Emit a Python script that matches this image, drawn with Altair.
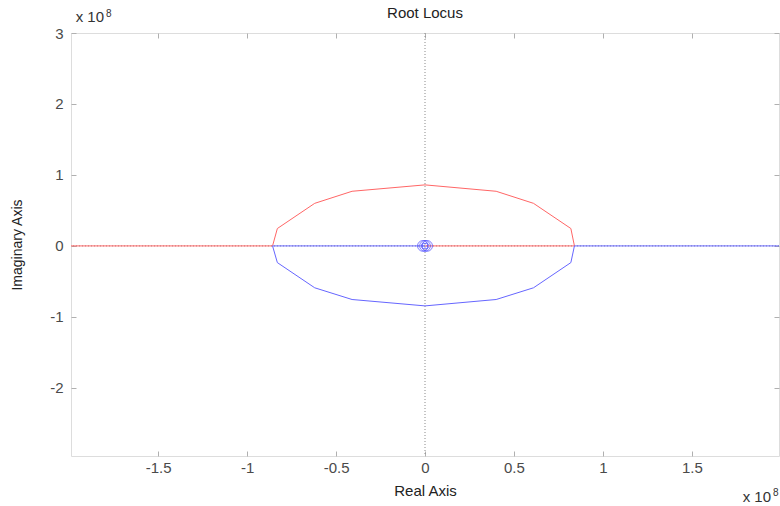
import altair as alt
import pandas as pd

# Root locus branches (units of 1e8)
red_x = [0.0, 0.84, 0.82, 0.61, 0.40, 0.0, -0.41, -0.62, -0.83, -0.857, -2.1]
red_y = [0.0, 0.0, 0.245, 0.60, 0.77, 0.86, 0.77, 0.60, 0.245, 0.0, 0.0]
blue_x = [0.0, -0.857, -0.83, -0.62, -0.41, 0.0, 0.40, 0.61, 0.82, 0.84, 2.1]
blue_y = [0.0, 0.0, -0.235, -0.59, -0.755, -0.845, -0.755, -0.59, -0.235, 0.0, 0.0]

# poles (x) and zeros (o) near origin
pole_x = [0.0]
pole_y = [0.0]
zero_x = [-0.012, 0.0, 0.012]
zero_y = [0.0, 0.0, 0.0]

xticks = [-1.5, -1, -0.5, 0, 0.5, 1, 1.5]
yticks = [-2, -1, 0, 1, 2, 3]
x_domain = [-1.99, 1.99]
y_domain = [-2.96, 3.0]

rows = []
for i, (x, y) in enumerate(zip(red_x, red_y)):
    rows.append({"x": x, "y": y, "branch": "r", "order": i})
for i, (x, y) in enumerate(zip(blue_x, blue_y)):
    rows.append({"x": x, "y": y, "branch": "b", "order": i})
df = pd.DataFrame(rows)

poles = pd.DataFrame({"x": pole_x, "y": pole_y})
zeros = pd.DataFrame({"x": zero_x, "y": zero_y})
origin = pd.DataFrame({"z": [0.0]})
one = pd.DataFrame({"a": [0]})

FONT = "Liberation Sans"
LAB = "#4a4a4a"
TICK = "#b0b0b0"

xs = alt.Scale(domain=x_domain, nice=False, zero=False)
ys = alt.Scale(domain=y_domain, nice=False, zero=False)

x_main = alt.Axis(values=xticks, ticks=False, domain=False, grid=False,
                  title="Real Axis", labelFontSize=15, labelFont=FONT,
                  labelColor=LAB, labelPadding=4, titleFont=FONT,
                  titleFontSize=15, titleFontWeight="normal", titleColor="#222222",
                  titlePadding=8, labelExpr="toString(datum.value)")
y_main = alt.Axis(values=yticks, ticks=False, domain=False, grid=False,
                  title="Imaginary Axis", labelFontSize=15, labelFont=FONT,
                  labelColor=LAB, labelPadding=8, titleFont=FONT,
                  titleFontSize=14, titleFontWeight="normal", titleColor="#222222",
                  titlePadding=25, labelExpr="toString(datum.value)")


def tick_axis(vals, orient):
    return alt.Axis(values=vals, orient=orient, labels=False, domain=False,
                    grid=False, title="", ticks=True, tickSize=5, offset=-5,
                    tickColor=TICK, tickWidth=1)


lines = alt.Chart(df).mark_line(strokeWidth=1, clip=True).encode(
    x=alt.X("x:Q", scale=xs, axis=x_main),
    y=alt.Y("y:Q", scale=ys, axis=y_main),
    color=alt.Color("branch:N", scale=alt.Scale(domain=["r", "b"], range=["#ff6666", "#6666ff"]), legend=None),
    detail="branch:N",
    order="order:Q",
)

ticks_bl = alt.Chart(df).mark_point(opacity=0).encode(
    x=alt.X("x:Q", scale=xs, axis=tick_axis(xticks, "bottom")),
    y=alt.Y("y:Q", scale=ys, axis=tick_axis(yticks, "left")),
)
ticks_tr = alt.Chart(df).mark_point(opacity=0).encode(
    x=alt.X("x:Q", scale=xs, axis=tick_axis(xticks, "top")),
    y=alt.Y("y:Q", scale=ys, axis=tick_axis(yticks, "right")),
)

vrule = alt.Chart(origin).mark_rule(strokeDash=[1, 2], color="#8a8a8a", strokeWidth=1).encode(
    x=alt.X("z:Q", scale=xs, axis=None))
hrule = alt.Chart(origin).mark_rule(strokeDash=[1, 2], color="#8a8a8a", strokeWidth=1).encode(
    y=alt.Y("z:Q", scale=ys, axis=None))

zero_pts = alt.Chart(zeros).mark_point(shape="circle", size=115, filled=False, color="#4a4aff", strokeWidth=1).encode(
    x=alt.X("x:Q", scale=xs, axis=None), y=alt.Y("y:Q", scale=ys, axis=None))
pole_pts = alt.Chart(poles).mark_point(shape="cross", size=40, filled=False, angle=45, color="#4a4aff", strokeWidth=1).encode(
    x=alt.X("x:Q", scale=xs, axis=None), y=alt.Y("y:Q", scale=ys, axis=None))


def label(text, x, y, size, align="left", color="#333333"):
    return alt.Chart(one).mark_text(text=text, align=align, baseline="alphabetic",
                                    font=FONT, fontSize=size, color=color).encode(
        x=alt.value(x), y=alt.value(y))


title = label("Root Locus", 354, -15, 15, align="center", color="#222222")
exp_tl = label("x 10", 33, -11, 15, align="right") + label("8", 35, -16, 10)
exp_br = label("x 10", 700, 469, 15, align="right") + label("8", 702, 463, 10)

chart = alt.layer(
    vrule, hrule, lines, zero_pts, pole_pts, ticks_bl, ticks_tr, title, exp_tl, exp_br
).resolve_axis(x="independent", y="independent").properties(
    width=708, height=423,
    autosize=alt.AutoSizeParams(type="none"),
    padding={"left": 71, "top": 33, "right": 1, "bottom": 50},
).configure_view(stroke="#b5b5b5", strokeWidth=1).configure(background="white")

chart.save("out.html", embed_options={"renderer": "svg", "actions": False})
